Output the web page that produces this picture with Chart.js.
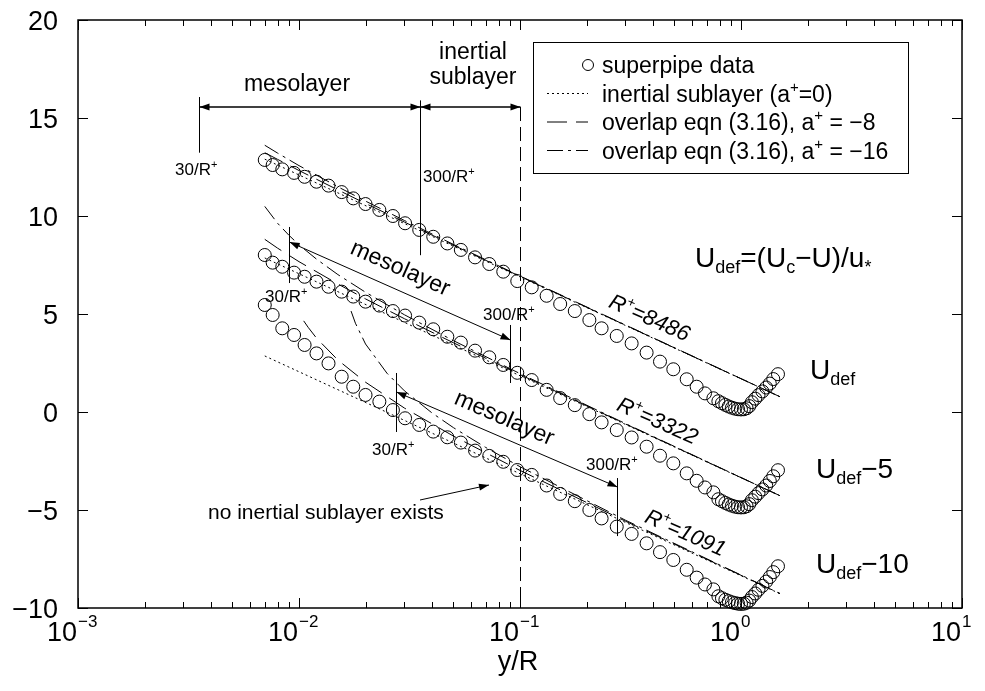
<!DOCTYPE html>
<html>
<head>
<meta charset="utf-8">
<script src="https://cdn.jsdelivr.net/npm/chart.js@4"></script>
<style>html,body{margin:0;padding:0;background:#fff}</style>
</head>
<body>
<canvas id="chart" width="985" height="691"></canvas>
<script>
// superpipe velocity-defect profiles
const yR = [0.0070, 0.0076, 0.0084, 0.0095, 0.0106, 0.0120, 0.0136, 0.0156, 0.0176, 0.0200,
  0.0231, 0.0266, 0.0302, 0.0350, 0.0405, 0.0469, 0.0540, 0.0626, 0.0726, 0.0840,
  0.0972, 0.113, 0.132, 0.152, 0.177, 0.206, 0.234, 0.274, 0.320, 0.374,
  0.430, 0.494, 0.568, 0.630, 0.687, 0.750, 0.79, 0.82, 0.85, 0.88,
  0.91, 0.94, 0.97, 1.00, 1.03, 1.06, 1.09, 1.12, 1.16, 1.20,
  1.25, 1.30, 1.35, 1.40, 1.47];
const uTop = [12.86, 12.60, 12.38, 12.20, 12.00, 11.75, 11.55, 11.22, 10.90, 10.61,
  10.31, 10.00, 9.63, 9.29, 8.94, 8.60, 8.27, 7.89, 7.55, 7.16,
  6.68, 6.36, 5.93, 5.51, 5.15, 4.69, 4.27, 3.88, 3.50, 3.03,
  2.57, 2.18, 1.67, 1.29, 0.95, 0.70, 0.55, 0.45, 0.36, 0.28,
  0.22, 0.17, 0.14, 0.13, 0.14, 0.19, 0.30, 0.50, 0.68, 0.86,
  1.05, 1.25, 1.45, 1.68, 1.93];
const uMid = [8.01, 7.62, 7.41, 7.11, 6.90, 6.65, 6.39, 6.14, 5.89, 5.63,
  5.43, 5.15, 4.92, 4.56, 4.22, 3.84, 3.54, 3.13, 2.79, 2.40,
  2.00, 1.63, 1.13, 0.71, 0.35, -0.11, -0.53, -0.92, -1.30, -1.77,
  -2.23, -2.62, -3.13, -3.51, -3.85, -4.10, -4.45, -4.55, -4.64, -4.72,
  -4.78, -4.83, -4.86, -4.87, -4.86, -4.81, -4.70, -4.50, -4.32, -4.14,
  -3.95, -3.75, -3.52, -3.28, -2.97];
const uBot = [5.46, 4.95, 4.27, 3.93, 3.42, 2.99, 2.48, 1.80, 1.29, 0.87,
  0.53, 0.10, -0.32, -0.66, -1.00, -1.29, -1.56, -1.97, -2.24, -2.54,
  -2.96, -3.21, -3.75, -4.18, -4.55, -5.00, -5.43, -5.85, -6.22, -6.70,
  -7.15, -7.55, -8.05, -8.45, -8.80, -9.05, -9.40, -9.50, -9.58, -9.65,
  -9.71, -9.75, -9.78, -9.79, -9.78, -9.73, -9.62, -9.44, -9.26, -9.07,
  -8.87, -8.65, -8.42, -8.17, -7.87];

// inertial sublayer (a+=0)
const islX = [0.007, 1.5];
const islTop = [12.9, 0.78];
const islMid = [7.86, -4.27];
const islBot = [2.86, -9.27];

// overlap eqn, a+ = -8
const a8X = [0.007, 0.008, 0.01, 0.015, 0.02, 0.03, 0.05, 0.1, 0.3, 1.5];
const a8Top = [13.23, 12.89, 12.32, 11.33, 10.64, 9.69, 8.51, 6.92, 4.43, 0.78];
const a8Mid = [8.81, 8.36, 7.67, 6.53, 5.77, 4.76, 3.53, 1.91, -0.61, -4.27];
const a8BotX = [0.0105, 0.011, 0.012, 0.015, 0.02, 0.03, 0.05, 0.1, 0.3, 1.5];
const a8Bot = [4.65, 4.32, 3.77, 2.65, 1.52, 0.20, -1.23, -2.98, -5.57, -9.26];

// overlap eqn, a+ = -16
const a16Top = [13.61, 13.21, 12.57, 11.49, 10.76, 9.77, 8.55, 6.94, 4.44, 0.78];
const a16MidX = [0.007, 0.008, 0.009, 0.01, 0.012, 0.015, 0.02, 0.03, 0.05, 0.1, 0.3, 1.5];
const a16Mid = [10.49, 9.63, 9.02, 8.53, 7.80, 7.01, 6.11, 4.96, 3.64, 1.96, -0.59, -4.27];
const a16BotX = [0.0172, 0.018, 0.02, 0.025, 0.03, 0.04, 0.05, 0.07, 0.1, 0.3, 1.5];
const a16Bot = [5.15, 4.53, 3.47, 1.98, 1.08, -0.05, -0.80, -1.81, -2.79, -5.52, -9.26];

const xTicks = [-3, -2, -1, 0, 1];
const yTicks = [-10, -5, 0, 5, 10, 15, 20];
const rPlus = [8486, 3322, 1091];

const FONT = "'Liberation Sans', Arial, sans-serif";
const DOT = [2, 3], DASH = [20, 9], DASHDOT = [16, 5, 3, 5];

const pts = (xs, ys) => xs.map((v, i) => ({ x: v, y: ys[i] }));

function circles(ys) {
  return { data: pts(yR, ys), showLine: false, pointStyle: "circle", pointRadius: 6.5,
    borderColor: "#000", borderWidth: 1, backgroundColor: "rgba(0,0,0,0)", clip: false };
}
function curve(xs, ys, dash) {
  return { data: pts(xs, ys), showLine: true, pointRadius: 0, borderColor: "#000",
    borderWidth: 1, borderDash: dash, fill: false, tension: 0 };
}

// text with sub/superscripts: segs = [[text, 0 normal | 1 sub | 2 sup], ...]
function rich(ctx, x, y, segs, size, align, style) {
  style = style || "";
  const small = Math.round(size * 0.64);
  let w = 0;
  const widths = segs.map(([t, k]) => {
    ctx.font = `${style} ${k ? small : size}px ${FONT}`;
    const m = ctx.measureText(t).width;
    w += m;
    return m;
  });
  let cx = align === "center" ? x - w / 2 : align === "right" ? x - w : x;
  ctx.textAlign = "left";
  ctx.textBaseline = "alphabetic";
  segs.forEach(([t, k], i) => {
    ctx.font = `${style} ${k ? small : size}px ${FONT}`;
    const dy = k === 1 ? size * 0.22 : k === 2 ? -size * 0.42 : 0;
    ctx.fillText(t, cx, y + dy);
    cx += widths[i];
  });
}

function seg(ctx, x1, y1, x2, y2) {
  ctx.beginPath(); ctx.moveTo(x1, y1); ctx.lineTo(x2, y2); ctx.stroke();
}
function head(ctx, x1, y1, x2, y2) {
  const a = Math.atan2(y2 - y1, x2 - x1), L = 10, W = 3.5;
  const bx = x2 - L * Math.cos(a), by = y2 - L * Math.sin(a);
  ctx.beginPath();
  ctx.moveTo(x2, y2);
  ctx.lineTo(bx + W * Math.sin(a), by - W * Math.cos(a));
  ctx.lineTo(bx - W * Math.sin(a), by + W * Math.cos(a));
  ctx.closePath(); ctx.fill();
}
function arrow(ctx, x1, y1, x2, y2, both) {
  seg(ctx, x1, y1, x2, y2);
  head(ctx, x1, y1, x2, y2);
  if (both) head(ctx, x2, y2, x1, y1);
}

const decor = {
  id: "decor",
  afterDatasetsDraw(chart) {
    const { ctx, chartArea: a, scales: { x, y } } = chart;
    const px = v => x.getPixelForValue(v), py = v => y.getPixelForValue(v);
    const crisp = v => Math.round(v) + 0.5;
    ctx.save();
    ctx.strokeStyle = "#000"; ctx.fillStyle = "#000";

    // frame + ticks
    ctx.lineWidth = 1.5;
    ctx.strokeRect(a.left, a.top, a.right - a.left, a.bottom - a.top);
    ctx.lineWidth = 1;
    xTicks.forEach(e => {
      for (let m = 1; m <= 9; m++) {
        if (e === 1 && m > 1) break;
        const X = crisp(px(m * Math.pow(10, e)));
        const len = m === 1 ? 10 : 6;
        seg(ctx, X, a.bottom, X, a.bottom - len);
        seg(ctx, X, a.top, X, a.top + len);
      }
      const X = px(Math.pow(10, e));
      ctx.font = `27px ${FONT}`; ctx.textAlign = "right"; ctx.textBaseline = "alphabetic";
      ctx.fillText("10", X - 1, 641);
      ctx.font = `17px ${FONT}`; ctx.textAlign = "left";
      ctx.fillText(e < 0 ? "\u2212" + (-e) : String(e), X, 627);
    });
    yTicks.forEach(v => {
      const Y = crisp(py(v));
      seg(ctx, a.left, Y, a.left + 10, Y);
      seg(ctx, a.right, Y, a.right - 10, Y);
      ctx.font = `27px ${FONT}`; ctx.textAlign = "right"; ctx.textBaseline = "alphabetic";
      ctx.fillText(v < 0 ? "\u2212" + (-v) : String(v), 58, py(v) + 10);
    });
    ctx.font = `27px ${FONT}`; ctx.textAlign = "center";
    ctx.fillText("y/R", 518, 670);

    // top: mesolayer / inertial sublayer arrows
    const m30 = crisp(px(30 / rPlus[0])), m300 = crisp(px(300 / rPlus[0])), xb = crisp(px(0.1));
    ctx.lineWidth = 1.3;
    arrow(ctx, m30, py(15.56), m300, py(15.56), true);
    arrow(ctx, m300, py(15.56), xb, py(15.56), true);
    ctx.lineWidth = 1;
    seg(ctx, m30, py(16.07), m30, py(13.23));
    seg(ctx, m300, py(15.9), m300, py(8.0));
    ctx.setLineDash([14, 6]);
    seg(ctx, xb, py(15.56), xb, a.bottom);
    ctx.setLineDash([]);
    ctx.font = `23px ${FONT}`; ctx.textAlign = "center";
    ctx.fillText("mesolayer", 297, 91);
    ctx.fillText("inertial", 473, 59);
    ctx.fillText("sublayer", 473, 84);
    rich(ctx, 175, 175, [["30/R", 0], ["+", 2]], 17, "left");
    rich(ctx, 423, 182, [["300/R", 0], ["+", 2]], 17, "left");

    // middle profile annotations
    const b30 = crisp(px(30 / rPlus[1])), b300 = crisp(px(300 / rPlus[1]));
    seg(ctx, b30, py(9.44), b30, py(6.58));
    seg(ctx, b300, py(4.44), b300, py(1.48));
    arrow(ctx, b30, py(8.67), b300, py(3.67), true);
    rich(ctx, 265, 302, [["30/R", 0], ["+", 2]], 17, "left");
    rich(ctx, 483, 320, [["300/R", 0], ["+", 2]], 17, "left");

    // bottom profile annotations
    const c30 = crisp(px(30 / rPlus[2])), c300 = crisp(px(300 / rPlus[2]));
    seg(ctx, c30, py(1.99), c30, py(-1.02));
    seg(ctx, c300, py(-3.37), c300, py(-6.33));
    arrow(ctx, c30, py(1.02), c300, py(-3.83), true);
    rich(ctx, 372, 455, [["30/R", 0], ["+", 2]], 17, "left");
    rich(ctx, 586, 470, [["300/R", 0], ["+", 2]], 17, "left");

    ctx.font = `21px ${FONT}`; ctx.textAlign = "left";
    ctx.fillText("no inertial sublayer exists", 208, 519);
    arrow(ctx, 420, 500, 489, 485, false);

    // rotated labels
    const rot = (cx, cy, ang, fn) => {
      ctx.save(); ctx.translate(cx, cy); ctx.rotate(ang * Math.PI / 180); fn(); ctx.restore();
    };
    rot(400, 269, 24, () => { ctx.font = `23px ${FONT}`; ctx.textAlign = "center"; ctx.fillText("mesolayer", 0, 6); });
    rot(504, 419, 23.5, () => { ctx.font = `23px ${FONT}`; ctx.textAlign = "center"; ctx.fillText("mesolayer", 0, 6); });
    [[650, 317, "8486"], [658, 420, "3322"], [686, 532, "1091"]].forEach(([cx, cy, t]) =>
      rot(cx, cy, 24, () => rich(ctx, 0, 8, [["R", 0], ["+", 2], ["=" + t, 0]], 22, "center", "italic")));

    // right-hand labels
    rich(ctx, 810, 379, [["U", 0], ["def", 1]], 28, "left");
    rich(ctx, 816, 478, [["U", 0], ["def", 1], ["\u22125", 0]], 28, "left");
    rich(ctx, 816, 573, [["U", 0], ["def", 1], ["\u221210", 0]], 28, "left");
    rich(ctx, 695, 267, [["U", 0], ["def", 1], ["=(U", 0], ["c", 1], ["\u2212U)/u", 0], ["*", 1]], 28, "left");

    // legend
    ctx.lineWidth = 1;
    ctx.strokeRect(533.5, 42.5, 375, 131);
    const rows = [65, 93.5, 122, 150.5];
    ctx.beginPath(); ctx.arc(588, rows[0], 5.5, 0, Math.PI * 2); ctx.stroke();
    [DOT, DASH, DASHDOT].forEach((d, i) => {
      ctx.setLineDash(d);
      seg(ctx, 547, rows[i + 1], 588, rows[i + 1]);
    });
    ctx.setLineDash([]);
    rich(ctx, 602, rows[0] + 8, [["superpipe data", 0]], 23, "left");
    rich(ctx, 602, rows[1] + 8, [["inertial sublayer (a", 0], ["+", 2], ["=0)", 0]], 23, "left");
    rich(ctx, 602, rows[2] + 8, [["overlap eqn (3.16), a", 0], ["+", 2], [" = \u22128", 0]], 23, "left");
    rich(ctx, 602, rows[3] + 8, [["overlap eqn (3.16), a", 0], ["+", 2], [" = \u221216", 0]], 23, "left");

    ctx.restore();
  }
};

new Chart(document.getElementById("chart"), {
  type: "scatter",
  data: {
    datasets: [
      circles(uTop), circles(uMid), circles(uBot),
      curve(islX, islTop, DOT), curve(islX, islMid, DOT), curve(islX, islBot, DOT),
      curve(a8X, a8Top, DASH), curve(a8X, a8Mid, DASH), curve(a8BotX, a8Bot, DASH),
      curve(a8X, a16Top, DASHDOT), curve(a16MidX, a16Mid, DASHDOT), curve(a16BotX, a16Bot, DASHDOT)
    ]
  },
  options: {
    responsive: false,
    animation: false,
    events: [],
    layout: { padding: { left: 78, top: 20, right: 23, bottom: 83 } },
    scales: {
      x: { type: "logarithmic", min: 0.001, max: 10, display: false },
      y: { type: "linear", min: -10, max: 20, display: false }
    },
    plugins: { legend: { display: false }, tooltip: { enabled: false } }
  },
  plugins: [decor]
});
</script>
</body>
</html>
